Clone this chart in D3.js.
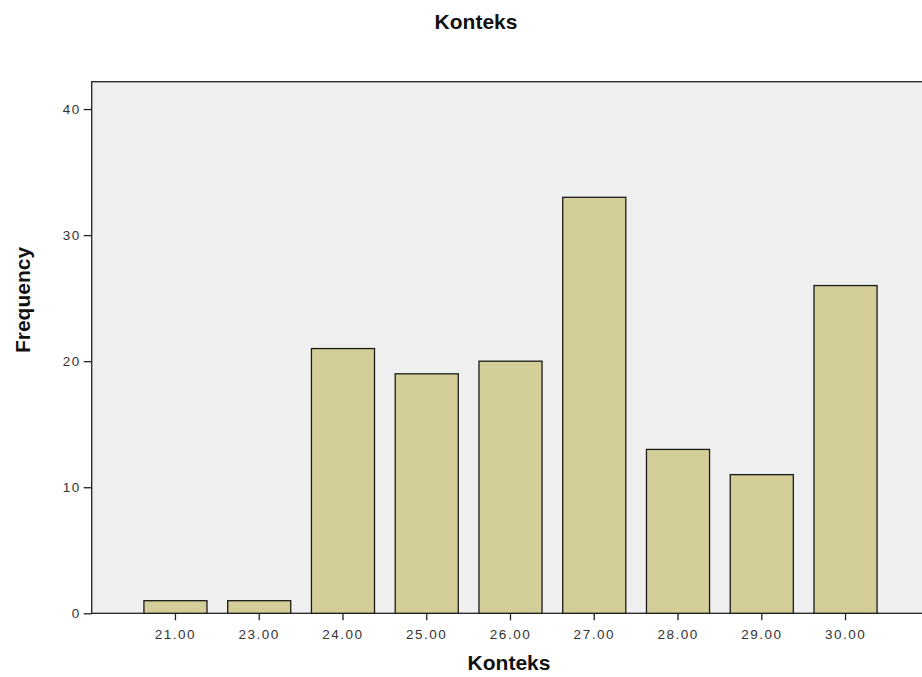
<!DOCTYPE html>
<html>
<head>
<meta charset="utf-8">
<script src="https://cdn.jsdelivr.net/npm/d3@7"></script>
<style>
  body { margin: 0; background: #fff; }
  svg { display: block; font-family: Arial, "Liberation Sans", sans-serif; }
</style>
</head>
<body>
<script>
// values
const categories = ["21.00", "23.00", "24.00", "25.00", "26.00", "27.00", "28.00", "29.00", "30.00"];
const frequency = [1, 1, 21, 19, 20, 33, 13, 11, 26];
const yTicks = [0, 10, 20, 30, 40];

const width = 922, height = 677;
const plot = { left: 91.7, right: 929.3, top: 81.7, bottom: 613.3 };

const svg = d3.select("body")
    .append("svg")
    .attr("width", width)
    .attr("height", height);

const x = d3.scaleBand()
    .domain(categories)
    .range([plot.left, plot.right])
    .paddingInner(0.247)
    .paddingOuter(0.6235);

const y = d3.scaleLinear()
    .domain([0, 42.17])
    .range([plot.bottom, plot.top]);

// plot background + frame
svg.append("rect")
    .attr("x", plot.left)
    .attr("y", plot.top)
    .attr("width", plot.right - plot.left)
    .attr("height", plot.bottom - plot.top)
    .attr("fill", "#efefef")
    .attr("stroke", "#222")
    .attr("stroke-width", 1.3);

// bars
svg.append("g")
    .selectAll("rect")
    .data(frequency)
    .join("rect")
    .attr("x", (d, i) => x(categories[i]))
    .attr("y", d => y(d))
    .attr("width", x.bandwidth())
    .attr("height", d => y(0) - y(d))
    .attr("fill", "#d3ce98")
    .attr("stroke", "#1a1a1a")
    .attr("stroke-width", 1.3);

// y axis
const yAxis = svg.append("g")
    .attr("transform", `translate(${plot.left},0)`)
    .call(d3.axisLeft(y).tickValues(yTicks).tickSize(8).tickPadding(3).tickFormat(d3.format("d")));
yAxis.select(".domain").remove();
yAxis.selectAll("line").attr("stroke", "#222").attr("stroke-width", 1.3);
yAxis.selectAll("text")
    .attr("font-size", 13.5)
    .attr("letter-spacing", 1.5)
    .attr("fill", "#333")
    .attr("font-family", "Arial, 'Liberation Sans', sans-serif");

// x axis
const xAxis = svg.append("g")
    .attr("transform", `translate(0,${plot.bottom})`)
    .call(d3.axisBottom(x).tickSize(7).tickPadding(9));
xAxis.select(".domain").remove();
xAxis.selectAll("line").attr("stroke", "#222").attr("stroke-width", 1.3);
xAxis.selectAll("text")
    .attr("font-size", 13.5)
    .attr("letter-spacing", 1.5)
    .attr("fill", "#333")
    .attr("font-family", "Arial, 'Liberation Sans', sans-serif");

// titles
svg.append("text")
    .attr("x", 476)
    .attr("y", 29)
    .attr("text-anchor", "middle")
    .attr("font-size", 21)
    .attr("font-weight", "bold")
    .attr("fill", "#111")
    .text("Konteks");

svg.append("text")
    .attr("x", 509)
    .attr("y", 670)
    .attr("text-anchor", "middle")
    .attr("font-size", 21)
    .attr("font-weight", "bold")
    .attr("fill", "#111")
    .text("Konteks");

svg.append("text")
    .attr("transform", "translate(30,300) rotate(-90)")
    .attr("text-anchor", "middle")
    .attr("font-size", 21)
    .attr("font-weight", "bold")
    .attr("fill", "#111")
    .text("Frequency");
</script>
</body>
</html>
